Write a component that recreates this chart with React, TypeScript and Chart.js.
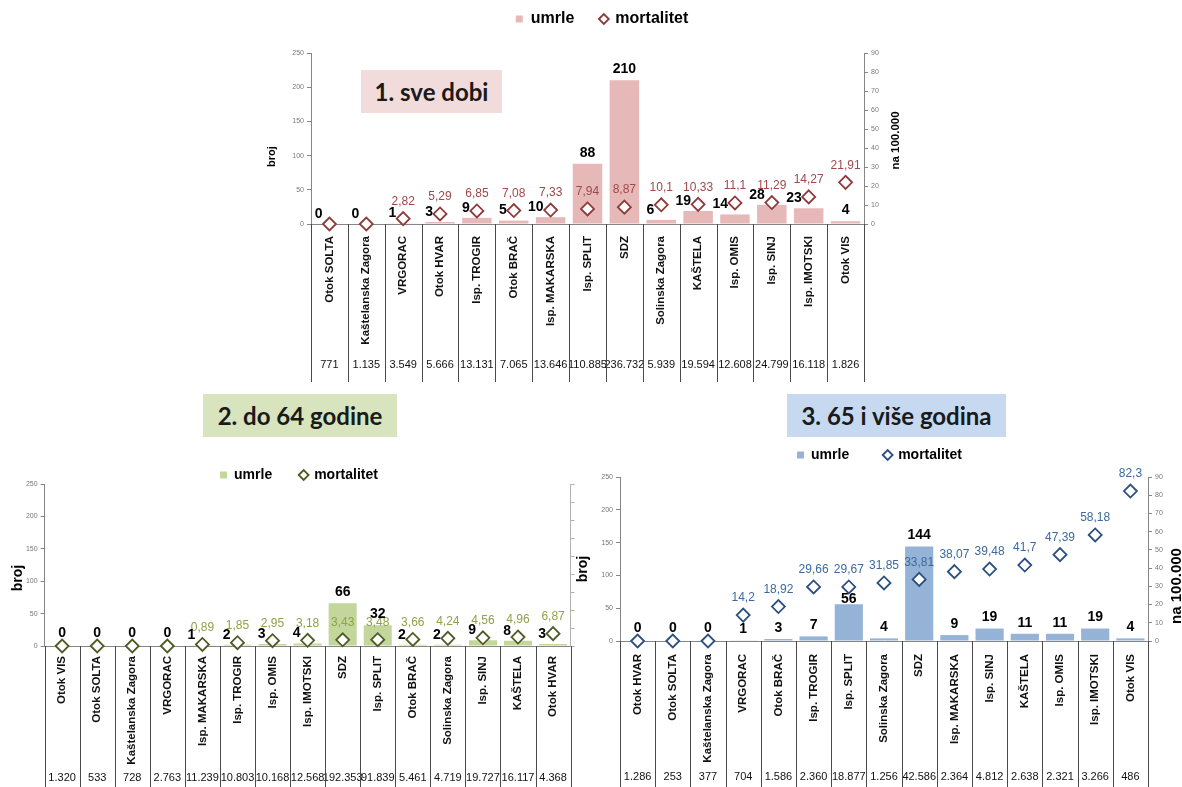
import React, { useEffect, useRef } from 'react';
import { Chart, registerables } from 'chart.js';
Chart.register(...registerables);

const FONT = '"Liberation Sans", Arial, sans-serif';
Chart.defaults.font.family = FONT;

// ---- 1. sve dobi ----
const cats1 = ['Otok SOLTA', 'Kaštelanska Zagora', 'VRGORAC', 'Otok HVAR', 'Isp. TROGIR', 'Otok BRAČ', 'Isp. MAKARSKA', 'Isp. SPLIT', 'SDZ', 'Solinska Zagora', 'KAŠTELA', 'Isp. OMIS', 'Isp. SINJ', 'Isp. IMOTSKI', 'Otok VIS'];
const umrle1 = [0, 0, 1, 3, 9, 5, 10, 88, 210, 6, 19, 14, 28, 23, 4];
const mort1 = [0, 0, 2.82, 5.29, 6.85, 7.08, 7.33, 7.94, 8.87, 10.1, 10.33, 11.1, 11.29, 14.27, 21.91];
const pop1 = ['771', '1.135', '3.549', '5.666', '13.131', '7.065', '13.646', '110.885', '236.732', '5.939', '19.594', '12.608', '24.799', '16.118', '1.826'];

// ---- 2. do 64 godine ----
const cats2 = ['Otok VIS', 'Otok SOLTA', 'Kaštelanska Zagora', 'VRGORAC', 'Isp. MAKARSKA', 'Isp. TROGIR', 'Isp. OMIS', 'Isp. IMOTSKI', 'SDZ', 'Isp. SPLIT', 'Otok BRAČ', 'Solinska Zagora', 'Isp. SINJ', 'KAŠTELA', 'Otok HVAR'];
const umrle2 = [0, 0, 0, 0, 1, 2, 3, 4, 66, 32, 2, 2, 9, 8, 3];
const mort2 = [0, 0, 0, 0, 0.89, 1.85, 2.95, 3.18, 3.43, 3.48, 3.66, 4.24, 4.56, 4.96, 6.87];
const pop2 = ['1.320', '533', '728', '2.763', '11.239', '10.803', '10.168', '12.568', '192.353', '91.839', '5.461', '4.719', '19.727', '16.117', '4.368'];

// ---- 3. 65 i više godina ----
const cats3 = ['Otok HVAR', 'Otok SOLTA', 'Kaštelanska Zagora', 'VRGORAC', 'Otok BRAČ', 'Isp. TROGIR', 'Isp. SPLIT', 'Solinska Zagora', 'SDZ', 'Isp. MAKARSKA', 'Isp. SINJ', 'KAŠTELA', 'Isp. OMIS', 'Isp. IMOTSKI', 'Otok VIS'];
const umrle3 = [0, 0, 0, 1, 3, 7, 56, 4, 144, 9, 19, 11, 11, 19, 4];
const mort3 = [0, 0, 0, 14.2, 18.92, 29.66, 29.67, 31.85, 33.81, 38.07, 39.48, 41.7, 47.39, 58.18, 82.3];
const pop3 = ['1.286', '253', '377', '704', '1.586', '2.360', '18.877', '1.256', '42.586', '2.364', '4.812', '2.638', '2.321', '3.266', '486'];

// axis ranges / tick steps
const countAxis = { min: 0, max: 250, step: 50 };
const rateAxis = { min: 0, max: 90, step: 10 };
const seriesNames = ['umrle', 'mortalitet'];

const fmt = (v: number) => String(v).replace('.', ',');

const valueLabels = {
  id: 'valueLabels',
  afterDatasetsDraw(chart: any, _a: any, o: any) {
    const ctx = chart.ctx;
    const bars = chart.getDatasetMeta(0).data;
    const pts = chart.getDatasetMeta(1).data;
    const counts = chart.data.datasets[0].data;
    const rates = chart.data.datasets[1].data;
    const base = chart.scales.y.getPixelForValue(0);
    ctx.save();
    bars.forEach((bar: any, i: number) => {
      const pt = pts[i];
      if (rates[i] !== 0) {
        ctx.font = `12px ${FONT}`;
        ctx.fillStyle = o.rateColor;
        ctx.textAlign = 'center';
        ctx.textBaseline = 'middle';
        ctx.fillText(fmt(rates[i]), pt.x, pt.y - 17);
      }
      ctx.font = `bold 14px ${FONT}`;
      ctx.fillStyle = '#000';
      ctx.textBaseline = 'middle';
      const ly = bar.y - 11;
      const barH = base - bar.y;
      const near = Math.abs(ly - pt.y) < 12;
      if (counts[i] === 0 && o.zeroAbove) {
        ctx.textAlign = 'center';
        ctx.fillText(String(counts[i]), pt.x, pt.y - 13);
      } else if (near && barH < 25) {
        ctx.textAlign = 'right';
        ctx.fillText(String(counts[i]), pt.x - 7, ly + 1);
      } else if (near) {
        ctx.textAlign = 'center';
        ctx.fillText(String(counts[i]), bar.x, pt.y + 12);
      } else {
        ctx.textAlign = 'center';
        ctx.fillText(String(counts[i]), bar.x, ly);
      }
    });
    ctx.restore();
  },
};

const separators = {
  id: 'separators',
  afterDraw(chart: any, _a: any, o: any) {
    const ctx = chart.ctx;
    const { left, right, bottom } = chart.chartArea;
    const n = chart.data.labels.length;
    const w = (right - left) / n;
    const end = chart.scales.pop.bottom;
    ctx.save();
    ctx.strokeStyle = o.color;
    ctx.lineWidth = 1;
    ctx.beginPath();
    for (let i = 0; i <= n; i++) {
      const x = Math.round(left + i * w) + 0.5;
      ctx.moveTo(x, bottom);
      ctx.lineTo(x, end);
    }
    ctx.stroke();
    ctx.restore();
  },
};

const axisTitles = {
  id: 'axisTitles',
  afterDraw(chart: any, _a: any, o: any) {
    const ctx = chart.ctx;
    const { left, right, top, bottom } = chart.chartArea;
    const mid = (top + bottom) / 2;
    ctx.save();
    (o.items || []).forEach((t: any) => {
      const x = (t.side === 'left' ? left : right) + t.dx;
      const y = mid + t.dy;
      ctx.save();
      ctx.translate(x, y);
      ctx.rotate(-Math.PI / 2);
      ctx.font = `bold ${t.size}px ${FONT}`;
      ctx.fillStyle = '#000';
      ctx.textAlign = 'center';
      ctx.textBaseline = 'middle';
      ctx.fillText(t.text, 0, 0);
      ctx.restore();
    });
    ctx.restore();
  },
};

const AX = '#868686';

function buildConfig(s: any) {
  return {
    type: 'bar',
    data: {
      labels: s.cats,
      datasets: [
        {
          type: 'bar', label: seriesNames[0], data: s.counts, backgroundColor: s.barColor,
          borderWidth: 0, barPercentage: 0.8, categoryPercentage: 1, yAxisID: 'y', xAxisID: 'x',
          order: 1, pointStyle: 'rect',
        },
        {
          type: 'line', label: seriesNames[1], data: s.rates, showLine: false, pointStyle: 'rectRot',
          pointRadius: 6.5, pointHoverRadius: 6.5, pointBackgroundColor: '#fff', pointBorderColor: s.diamond,
          pointBorderWidth: 1.8, backgroundColor: '#fff', borderColor: s.diamond, yAxisID: 'y1', xAxisID: 'x',
          order: 0, clip: false,
        },
      ],
    },
    options: {
      responsive: false,
      animation: false,
      devicePixelRatio: 1,
      events: [],
      layout: { padding: 0 },
      plugins: {
        legend: {
          display: true, position: 'top', weight: 1000, maxHeight: s.legendMaxH,
          labels: {
            usePointStyle: true, boxWidth: 7, boxHeight: 7, padding: s.legendPad, color: '#000',
            font: { family: FONT, size: s.legendFont, weight: 'bold' },
            sort: (a: any, b: any) => a.datasetIndex - b.datasetIndex,
          },
        },
        title: {
          display: s.spacer > 0, text: ' ', weight: 500, font: { size: 1 },
          padding: { top: 0, bottom: Math.max(0, s.spacer - 1.2) },
        },
        tooltip: { enabled: false },
        valueLabels: { rateColor: s.rateColor, zeroAbove: s.zeroAbove },
        separators: { color: '#4a4a4a' },
        axisTitles: { items: s.titles },
      },
      scales: {
        x: {
          type: 'category', position: 'bottom', offset: true, weight: 0,
          grid: { display: false, drawTicks: false },
          border: { display: true, color: AX },
          ticks: {
            autoSkip: false, minRotation: 90, maxRotation: 90, padding: s.catPad, color: '#111',
            font: { family: FONT, size: 11.5, weight: 'bold' },
          },
          afterFit: (sc: any) => { sc.height = s.catH; },
        },
        pop: {
          type: 'category', position: 'bottom', labels: s.pops, offset: true, weight: 1,
          grid: { display: false, drawTicks: false },
          border: { display: false },
          ticks: {
            autoSkip: false, minRotation: 0, maxRotation: 0, padding: s.popPad, color: '#111',
            font: { family: FONT, size: 11 },
          },
          afterFit: (sc: any) => { sc.height = s.popH; },
        },
        y: {
          type: 'linear', position: 'left', min: countAxis.min, max: countAxis.max,
          ticks: { stepSize: countAxis.step, padding: 3, color: '#777', font: { family: FONT, size: 7 } },
          grid: { drawOnChartArea: false, drawTicks: true, tickLength: 4, color: AX },
          border: { display: true, color: AX },
          afterFit: (sc: any) => { sc.width = s.leftW; },
        },
        y1: {
          type: 'linear', position: 'right', min: rateAxis.min, max: rateAxis.max,
          ticks: { display: s.rightLabels, stepSize: rateAxis.step, padding: 3, color: '#777', font: { family: FONT, size: 7 } },
          grid: { drawOnChartArea: false, drawTicks: true, tickLength: 4, color: s.rightColor },
          border: { display: true, color: s.rightColor, dash: s.rightDash },
          afterFit: (sc: any) => { sc.width = s.rightW; },
        },
      },
    },
    plugins: [valueLabels, separators, axisTitles],
  };
}

const spec1 = {
  cats: cats1, counts: umrle1, rates: mort1, pops: pop1,
  barColor: '#e6b9b8', diamond: '#8e3a3a', rateColor: '#a0484a', zeroAbove: false,
  left: 255, top: -15, w: 694, h: 397,
  legendFont: 16, legendPad: 26, legendMaxH: undefined, spacer: 16,
  catPad: 12, catH: 131, popPad: 3.4, popH: 27,
  leftW: 56, rightW: 85, rightLabels: true, rightColor: AX, rightDash: [],
  titles: [
    { side: 'left', text: 'broj', dx: -39, dy: 18, size: 11 },
    { side: 'right', text: 'na 100.000', dx: 32, dy: 2, size: 11.5 },
  ],
};

const spec2 = {
  cats: cats2, counts: umrle2, rates: mort2, pops: pop2,
  barColor: '#c3d69b', diamond: '#4f5b24', rateColor: '#8ea24a', zeroAbove: true,
  left: 0, top: 440, w: 598, h: 347,
  legendFont: 14, legendPad: 28, legendMaxH: 44, spacer: 0,
  catPad: 10, catH: 122, popPad: 3.4, popH: 19,
  leftW: 44.6, rightW: 27.4, rightLabels: false, rightColor: '#b0b0b0', rightDash: [2, 2],
  titles: [
    { side: 'left', text: 'broj', dx: -26.6, dy: 13, size: 14 },
  ],
};

const spec3 = {
  cats: cats3, counts: umrle3, rates: mort3, pops: pop3,
  barColor: '#95b3d7', diamond: '#2a4f80', rateColor: '#3b6b9e', zeroAbove: true,
  left: 575, top: 413, w: 609, h: 374,
  legendFont: 14, legendPad: 35, legendMaxH: undefined, spacer: 5,
  catPad: 13, catH: 126, popPad: 3.4, popH: 20,
  leftW: 45, rightW: 36, rightLabels: true, rightColor: AX, rightDash: [],
  titles: [
    { side: 'left', text: 'broj', dx: -37, dy: 10, size: 14 },
    { side: 'right', text: 'na 100.000', dx: 29, dy: 27, size: 15 },
  ],
};

function Panel({ spec }: { spec: any }) {
  const ref = useRef<HTMLCanvasElement>(null);
  useEffect(() => {
    const chart = new Chart(ref.current as HTMLCanvasElement, buildConfig(spec) as any);
    return () => chart.destroy();
  }, [spec]);
  return (
    <canvas
      ref={ref}
      width={spec.w}
      height={spec.h}
      style={{ position: 'absolute', left: spec.left, top: spec.top, width: spec.w, height: spec.h }}
    />
  );
}

const boxes = [
  { text: '1. sve dobi', left: 361, top: 70, w: 141, h: 43, bg: '#f2dcdb' },
  { text: '2. do 64 godine', left: 203, top: 394, w: 194, h: 43, bg: '#d7e4bd' },
  { text: '3. 65 i više godina', left: 787, top: 394, w: 219, h: 43, bg: '#c6d9f1' },
];

export default function App() {
  return (
    <div style={{ position: 'absolute', left: 0, top: 0, width: 1182, height: 787, overflow: 'hidden', background: '#fff' }}>
      <Panel spec={spec1} />
      <Panel spec={spec2} />
      <Panel spec={spec3} />
      {boxes.map((b) => (
        <div
          key={b.text}
          style={{
            position: 'absolute', left: b.left, top: b.top, width: b.w, height: b.h, background: b.bg,
            display: 'flex', alignItems: 'center', justifyContent: 'center',
            fontFamily: 'Lato, "Open Sans", sans-serif', fontWeight: 700, fontSize: 24, color: '#1a1a1a',
            whiteSpace: 'nowrap',
          }}
        >
          {b.text}
        </div>
      ))}
    </div>
  );
}
